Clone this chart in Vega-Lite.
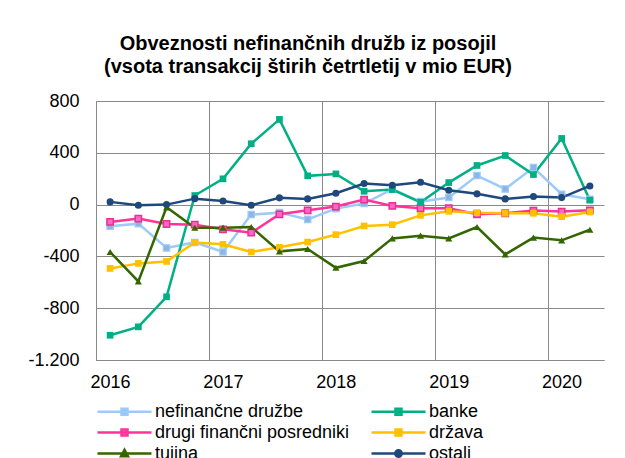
{
  "$schema": "https://vega.github.io/schema/vega-lite/v6.json",
  "width": 508,
  "height": 259,
  "autosize": {"type": "none"},
  "padding": {"left": 96, "top": 101, "right": 21, "bottom": 98},
  "background": "white",
  "config": {
    "font": "Liberation Sans",
    "view": {"stroke": null},
    "axis": {
      "labelFont": "Liberation Sans",
      "labelFontSize": 18,
      "labelColor": "#000000",
      "domainColor": "#898989",
      "domainWidth": 1,
      "gridColor": "#898989",
      "gridWidth": 1,
      "ticks": false,
      "tickSize": 0,
      "title": null,
      "labelFlush": false,
      "labelOverlap": false
    }
  },
  "title": {
    "text": ["Obveznosti nefinančnih družb iz posojil", "(vsota transakcij štirih četrtletij v mio EUR)"],
    "font": "Liberation Sans",
    "fontSize": 20,
    "fontWeight": "bold",
    "color": "#000000",
    "anchor": "middle",
    "dx": -42,
    "offset": -5,
    "lineHeight": 23,
    "baseline": "bottom"
  },
  "data": {
    "values": [
      {"t": 2016.125, "nefinančne družbe": -168, "banke": -1009, "drugi finančni posredniki": -134, "država": -493, "tujina": -366, "ostali": 21},
      {"t": 2016.375, "nefinančne družbe": -147, "banke": -944, "drugi finančni posredniki": -108, "država": -454, "tujina": -593, "ostali": -5},
      {"t": 2016.625, "nefinančne družbe": -335, "banke": -712, "drugi finančni posredniki": -150, "država": -439, "tujina": -21, "ostali": 0},
      {"t": 2016.875, "nefinančne družbe": -292, "banke": 70, "drugi finančni posredniki": -155, "država": -292, "tujina": -178, "ostali": 46},
      {"t": 2017.125, "nefinančne družbe": -366, "banke": 199, "drugi finančni posredniki": -191, "država": -307, "tujina": -178, "ostali": 28},
      {"t": 2017.375, "nefinančne družbe": -77, "banke": 470, "drugi finančni posredniki": -217, "država": -366, "tujina": -173, "ostali": -5},
      {"t": 2017.625, "nefinančne družbe": -62, "banke": 658, "drugi finančni posredniki": -75, "država": -330, "tujina": -361, "ostali": 52},
      {"t": 2017.875, "nefinančne družbe": -114, "banke": 222, "drugi finančni posredniki": -44, "država": -289, "tujina": -343, "ostali": 44},
      {"t": 2018.125, "nefinančne družbe": -31, "banke": 237, "drugi finančni posredniki": -15, "država": -232, "tujina": -488, "ostali": 88},
      {"t": 2018.375, "nefinančne družbe": 8, "banke": 103, "drugi finančni posredniki": 39, "država": -165, "tujina": -436, "ostali": 163},
      {"t": 2018.625, "nefinančne družbe": 120, "banke": 116, "drugi finančni posredniki": -10, "država": -155, "tujina": -261, "ostali": 150},
      {"t": 2018.875, "nefinančne družbe": 23, "banke": 18, "drugi finančni posredniki": -28, "država": -83, "tujina": -240, "ostali": 173},
      {"t": 2019.125, "nefinančne družbe": 54, "banke": 170, "drugi finančni posredniki": -28, "država": -52, "tujina": -261, "ostali": 111},
      {"t": 2019.375, "nefinančne družbe": 224, "banke": 302, "drugi finančni posredniki": -75, "država": -62, "tujina": -173, "ostali": 83},
      {"t": 2019.625, "nefinančne družbe": 121, "banke": 379, "drugi finančni posredniki": -67, "država": -67, "tujina": -384, "ostali": 44},
      {"t": 2019.875, "nefinančne družbe": 286, "banke": 232, "drugi finančni posredniki": -46, "država": -67, "tujina": -255, "ostali": 62},
      {"t": 2020.125, "nefinančne družbe": 80, "banke": 511, "drugi finančni posredniki": -54, "država": -93, "tujina": -276, "ostali": 54},
      {"t": 2020.375, "nefinančne družbe": 41, "banke": 34, "drugi finančni posredniki": -44, "država": -57, "tujina": -194, "ostali": 144}
    ]
  },
  "transform": [
    {"fold": ["nefinančne družbe", "banke", "drugi finančni posredniki", "država", "tujina", "ostali"], "as": ["series", "value"]}
  ],
  "encoding": {
    "x": {
      "field": "t",
      "type": "quantitative",
      "scale": {"domain": [2016, 2020.5], "nice": false, "zero": false},
      "axis": {"values": [2016, 2017, 2018, 2019, 2020], "format": "d", "grid": true, "labelOffset": 14, "labelPadding": 13}
    },
    "y": {
      "field": "value",
      "type": "quantitative",
      "scale": {"domain": [-1200, 800], "nice": false, "zero": false},
      "axis": {"values": [-1200, -800, -400, 0, 400, 800], "grid": true, "labelPadding": 17, "labelExpr": "datum.value == -1200 ? '-1.200' : toString(datum.value)"}
    }
  },
  "layer": [
    {
      "mark": {"type": "line", "strokeWidth": 2.5},
      "encoding": {
        "color": {"field": "series", "type": "nominal",
          "scale": {"domain": ["banke", "država", "drugi finančni posredniki", "nefinančne družbe", "ostali", "tujina"], "range": ["#00B084", "#FFC000", "#FF3399", "#9DCBF9", "#1F497D", "#336600"]},
          "legend": null}
      }
    },
    {
      "transform": [{"filter": {"field": "series", "equal": "nefinančne družbe"}}],
      "mark": {"type": "point", "shape": "square", "filled": true, "size": 40, "opacity": 1, "fill": "#8EB4E3", "stroke": "#9DCBF9", "strokeWidth": 1.2}
    },
    {
      "transform": [{"filter": {"field": "series", "equal": "drugi finančni posredniki"}}],
      "mark": {"type": "point", "shape": "square", "filled": true, "size": 40, "opacity": 1, "fill": "#FF66CC", "stroke": "#E8308C", "strokeWidth": 1.5}
    },
    {
      "transform": [{"filter": {"field": "series", "oneOf": ["banke", "država"]}}],
      "mark": {"type": "point", "shape": "square", "filled": true, "size": 45, "opacity": 1},
      "encoding": {"color": {"field": "series", "type": "nominal", "legend": null}}
    },
    {
      "transform": [{"filter": {"field": "series", "equal": "tujina"}}],
      "mark": {"type": "point", "shape": "triangle-up", "filled": true, "size": 50, "opacity": 1},
      "encoding": {"color": {"field": "series", "type": "nominal", "legend": null}}
    },
    {
      "transform": [{"filter": {"field": "series", "equal": "ostali"}}],
      "mark": {"type": "point", "shape": "circle", "filled": true, "size": 50, "opacity": 1},
      "encoding": {"color": {"field": "series", "type": "nominal", "legend": null}}
    },
    {
      "mark": {"type": "point", "filled": true, "opacity": 0, "strokeWidth": 2.5},
      "encoding": {
        "fill": {"field": "series", "type": "nominal",
          "scale": {"domain": ["nefinančne družbe", "banke", "drugi finančni posredniki", "država", "tujina", "ostali"], "range": ["#8EB4E3", "#1DBF8E", "#FF66CC", "#FFC000", "#336600", "#1F497D"]},
          "legend": {"title": null, "orient": "bottom", "offset": 11, "columns": 2, "columnPadding": 16, "rowPadding": 2, "symbolSize": 256, "symbolOpacity": 1, "labelFontSize": 18, "labelFont": "Liberation Sans", "labelColor": "#000000", "labelOffset": 40, "padding": 0, "labelLimit": 400, "symbolStrokeWidth": 2.5}},
        "stroke": {"field": "series", "type": "nominal",
          "scale": {"domain": ["nefinančne družbe", "banke", "drugi finančni posredniki", "država", "tujina", "ostali"], "range": ["#9DCBF9", "#00B084", "#FF3399", "#FFC000", "#336600", "#1F497D"]},
          "legend": {"title": null, "orient": "bottom", "offset": 11, "columns": 2, "columnPadding": 16, "rowPadding": 2, "symbolSize": 256, "symbolOpacity": 1, "labelFontSize": 18, "labelFont": "Liberation Sans", "labelColor": "#000000", "labelOffset": 40, "padding": 0, "labelLimit": 400, "symbolStrokeWidth": 2.5}},
        "shape": {"field": "series", "type": "nominal",
          "scale": {"domain": ["nefinančne družbe", "banke", "drugi finančni posredniki", "država", "tujina", "ostali"],
            "range": [
              "M-1,0H5.75M2,-0.375H2.75V0.375H2Z",
              "M-1,0H5.75M2,-0.375H2.75V0.375H2Z",
              "M-1,0H5.75M2,-0.375H2.75V0.375H2Z",
              "M-1,0H5.75M2,-0.375H2.75V0.375H2Z",
              "M-1,0H5.75M2.375,-0.45L2.8,0.33H1.95Z",
              "M-1,0H5.75M1.975,0A0.4,0.4,0,1,1,2.775,0A0.4,0.4,0,1,1,1.975,0Z"
            ]},
          "legend": {"title": null, "orient": "bottom", "offset": 11, "columns": 2, "columnPadding": 16, "rowPadding": 2, "symbolSize": 256, "symbolOpacity": 1, "labelFontSize": 18, "labelFont": "Liberation Sans", "labelColor": "#000000", "labelOffset": 40, "padding": 0, "labelLimit": 400, "symbolStrokeWidth": 2.5}}
      }
    }
  ]
}
